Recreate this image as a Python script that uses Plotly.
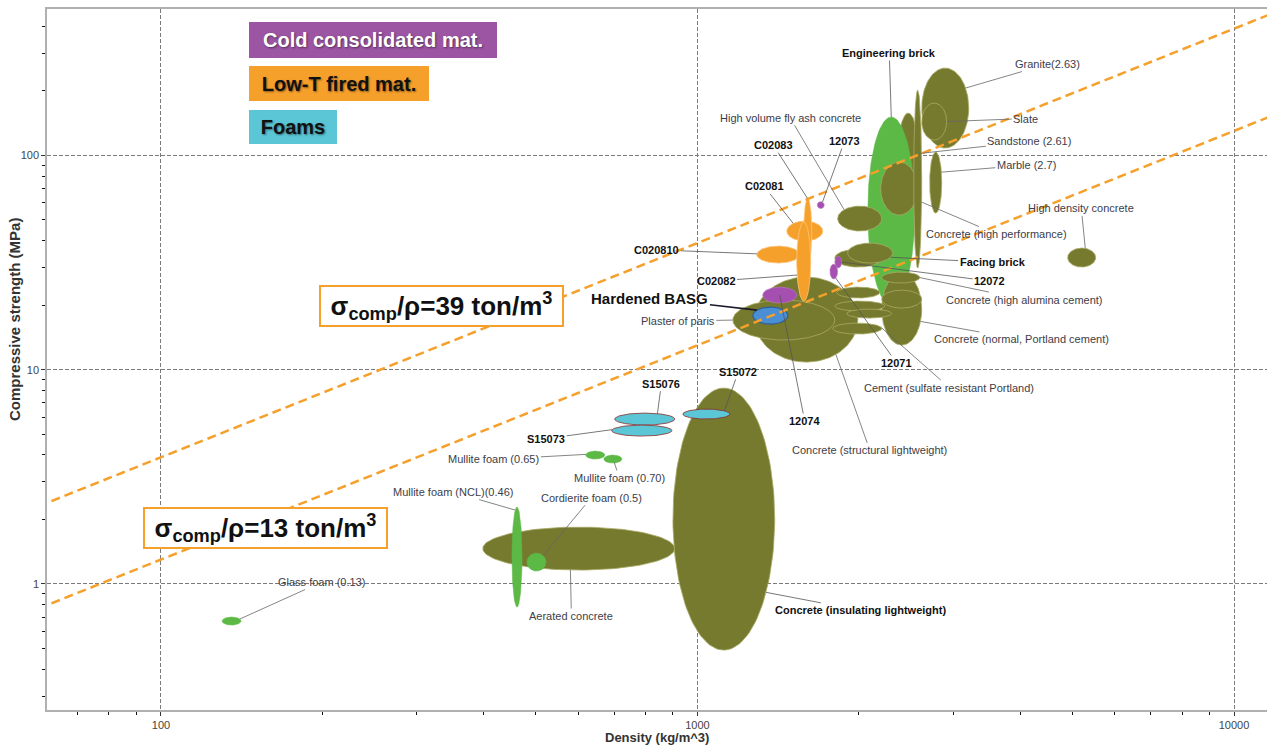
import numpy as np
import plotly.graph_objects as go

# ---------------- DATA ----------------
# material property ranges: density (kg/m^3) and compressive strength (MPa)
materials = [
    "Aerated concrete", "Mullite foam (NCL)(0.46)", "Cordierite foam (0.5)", "Glass foam (0.13)",
    "Mullite foam (0.65)", "Mullite foam (0.70)", "S15076", "S15073",
    "Concrete (insulating lightweight)", "S15072", "Sandstone (2.61)", "Engineering brick",
    "Limestone", "Concrete (high performance)", "Marble (2.7)", "Granite(2.63)", "Slate",
    "High volume fly ash concrete", "Concrete (structural lightweight)", "Plaster of paris",
    "Common brick", "Facing brick", "Concrete (normal, Portland cement)",
    "Concrete (high alumina cement)", "Concrete (normal) B", "Concrete (normal) C",
    "Concrete (normal) D", "Concrete (normal) E", "Cement (sulfate resistant Portland)",
    "Hardened BASG", "12074", "C020810", "C02081", "C02083", "C02082",
    "12073", "12072", "12071", "High density concrete",
]
groups = [
    "olive", "green", "green", "green",
    "green", "green", "cyan", "cyan",
    "olive", "cyan", "olive", "green",
    "olive", "olive", "olive", "olive", "olive",
    "olive", "olive", "olive",
    "olive", "olive", "olive",
    "olive", "olive", "olive",
    "olive", "olive", "olive",
    "blue", "magenta", "orange", "orange", "orange", "orange",
    "magenta", "magenta", "magenta", "olive",
]
rho_lo = [398, 451, 481, 130, 619, 669, 701, 692, 900, 939, 2351, 2077,
          2195, 2529, 2709, 2618, 2618, 1825, 1279, 1164,
          1803, 1905, 2205, 2205, 2205, 1818, 1803, 1897, 1787,
          1268, 1323, 1290, 1467, 1578, 1531, 1672, 1803, 1765, 4898]
rho_hi = [907, 471, 522, 141, 672, 723, 907, 896, 1393, 1149, 2596, 2541,
          2574, 2618, 2853, 3203, 2914, 2205, 1990, 1803,
          2205, 2311, 2618, 2596, 2618, 2186, 2234, 2301, 2205,
          1474, 1531, 1550, 1712, 1633, 1626, 1723, 1857, 1825, 5523]
sig_lo = [1.161, 0.780, 1.149, 0.643, 3.826, 3.666, 5.513, 4.899, 0.4916, 5.883, 48.85, 20.02,
          52.63, 29.80, 53.78, 108.2, 117.9, 44.35, 10.85, 13.75,
          30.12, 31.44, 13.02, 25.36, 19.38, 21.59, 18.77, 17.41, 14.66,
          16.32, 20.46, 31.44, 39.82, 30.77, 20.90, 56.45, 29.80, 26.48, 30.12]
sig_hi = [1.843, 2.285, 1.394, 0.701, 4.171, 3.996, 6.273, 5.513, 8.208, 6.549, 157.5, 150.9,
          93.05, 201.7, 103.6, 255.5, 175.4, 58.00, 27.05, 21.12,
          36.54, 38.97, 28.24, 28.54, 23.51, 24.29, 20.90, 19.18, 16.50,
          19.60, 24.29, 37.74, 49.37, 63.20, 48.85, 60.87, 33.89, 31.11, 36.93]

# labels: text, material it points to, attach angle on the ellipse (deg), style
label_text = [
    "Glass foam (0.13)", "Mullite foam (NCL)(0.46)", "Cordierite foam (0.5)", "Aerated concrete",
    "Mullite foam (0.65)", "Mullite foam (0.70)", "S15076", "S15073", "S15072",
    "Concrete (insulating lightweight)", "Plaster of paris", "Hardened BASG", "12074",
    "C02082", "C020810", "C02081", "C02083", "12073", "High volume fly ash concrete",
    "Engineering brick", "Granite(2.63)", "Slate", "Sandstone (2.61)", "Marble (2.7)",
    "Concrete (high performance)", "High density concrete", "Facing brick", "12072",
    "Concrete (high alumina cement)", "Concrete (normal, Portland cement)", "12071",
    "Cement (sulfate resistant Portland)", "Concrete (structural lightweight)",
]
label_target = [
    "Glass foam (0.13)", "Mullite foam (NCL)(0.46)", "Cordierite foam (0.5)", "Aerated concrete",
    "Mullite foam (0.65)", "Mullite foam (0.70)", "S15076", "S15073", "S15072",
    "Concrete (insulating lightweight)", "Plaster of paris", "Hardened BASG", "12074",
    "C02082", "C020810", "C02081", "C02083", "12073", "High volume fly ash concrete",
    "Engineering brick", "Granite(2.63)", "Slate", "Sandstone (2.61)", "Marble (2.7)",
    "Concrete (high performance)", "High density concrete", "Facing brick", "12072",
    "Concrete (high alumina cement)", "Concrete (normal, Portland cement)", "12071",
    "Cement (sulfate resistant Portland)", "Concrete (structural lightweight)",
]
label_angle = [30, 110, 45, 265, 170, 280, 65, 170, 40, -34, 180, 140, 0,
               200, 175, 130, 95, 60, 135, 90, 30, 0, 15, 20, -15, 75, -25, 0,
               0, -20, -60, 10, -55]
label_frac = [1, 1, 1, 1, 1, 1, 1, 1, 1, 1, 1, 1, 0,
              1, 1, 1, 1, 1, 1, 1, 1, 1, 1, 1, 1, 1, 1, 1,
              1, 1, 1, 1, 1]
label_style = ["n", "n", "n", "n", "n", "n", "b", "b", "b", "b", "n", "big", "b",
               "b", "b", "b", "b", "b", "n", "b", "n", "n", "n", "n", "n", "n", "b", "b",
               "n", "n", "b", "n", "n"]

# specific-strength guide lines (ton/m^3)
ratio_vals = [39, 13]
ratio_box_text = ["σ<sub>comp</sub>/ρ=39 ton/m<sup>3</sup>", "σ<sub>comp</sub>/ρ=13 ton/m<sup>3</sup>"]

legend_text = ["Cold consolidated mat.", "Low-T fired mat.", "Foams"]

x_ticks = [100, 1000, 10000]
y_ticks = [1, 10, 100]

# ---------------- STYLE / LAYOUT ----------------
label_dx = [82, -62, 48, 1, -92, 5, 4, -66, 14, 94, -55, -107, 25,
            -81, -100, -29, -34, 22, -54, -2, 82, 79, 110, 85, 75, -4, 102, 148,
            105, 101, 61, 68, 34]
label_dy = [-37, -18, -58, 46, 5, 15, -30, 9, -39, 18, 1, -12, 126,
            6, -4, -37, -53, -61, -92, -64, -24, -3, -12, -7, 32, -40, 5, 19,
            22, 18, 85, 60, 96]

COL = {
    "olive": ("#767a2e", "#a8aa64", 0.8),
    "green": ("#5cb946", "#5cb946", 0.5),
    "orange": ("#f6a02c", "#fbc57a", 0.8),
    "cyan": ("#5bc6d6", "#8a2c2c", 0.8),
    "magenta": ("#a550b0", "#c07ac8", 0.6),
    "blue": ("#4a8fd4", "#2d5f9a", 1.2),
}
FONT = "Liberation Sans, Arial, sans-serif"
W, H = 1267, 747
ML, MR, MT, MB = 47, 0, 9, 37
PW, PH = W - ML - MR, H - MT - MB
XR = [1.7876, 4.0615]
YR = [-0.588, 2.683]


def px2paper(px, py):
    return (px - ML) / PW, 1 - (py - MT) / PH


fig = go.Figure()
t = np.linspace(0, 2 * np.pi, 140)
geo = {}
for i, name in enumerate(materials):
    lx0, lx1 = np.log10(rho_lo[i]), np.log10(rho_hi[i])
    ly0, ly1 = np.log10(sig_lo[i]), np.log10(sig_hi[i])
    cx, rx, cy, ry = (lx0 + lx1) / 2, (lx1 - lx0) / 2, (ly0 + ly1) / 2, (ly1 - ly0) / 2
    geo[name] = (cx, rx, cy, ry)
    fill, line, lw = COL[groups[i]]
    fig.add_trace(go.Scatter(
        x=10 ** (cx + rx * np.cos(t)), y=10 ** (cy + ry * np.sin(t)),
        mode="lines", fill="toself", fillcolor=fill,
        line=dict(color=line, width=lw), name=name, hoverinfo="name",
        showlegend=False,
    ))

# guide lines sigma = ratio * rho
xl = np.array([40.0, 20000.0])
for r in ratio_vals:
    fig.add_trace(go.Scatter(x=xl, y=r * xl / 1000.0, mode="lines",
                             line=dict(color="#f6a02c", width=2.5, dash="9px,5px"),
                             showlegend=False, hoverinfo="skip"))

annotations = []
for k, txt in enumerate(label_text):
    cx, rx, cy, ry = geo[label_target[k]]
    a = np.radians(label_angle[k])
    f = label_frac[k]
    tx, ty = cx + f * rx * np.cos(a), cy + f * ry * np.sin(a)
    st = label_style[k]
    if st == "big":
        font = dict(family=FONT, size=15, color="#111")
        txt_s = "<b>" + txt + "</b>"
        acol, aw = "#1b1b2a", 1.6
    elif st == "b":
        font = dict(family=FONT, size=11, color="#111")
        txt_s = "<b>" + txt + "</b>"
        acol, aw = "#555", 0.8
    else:
        font = dict(family=FONT, size=11, color="#3d3d48")
        txt_s = txt
        acol, aw = "#666", 0.8
    annotations.append(dict(
        x=tx, y=ty, xref="x", yref="y", ax=label_dx[k], ay=label_dy[k],
        axref="pixel", ayref="pixel", text=txt_s, showarrow=True, arrowhead=0,
        arrowwidth=aw, arrowcolor=acol, standoff=0, startstandoff=0, font=font,
        borderpad=1,
    ))

# ratio boxes
ratio_box_px = [(441.5, 306), (265.5, 528)]
for txt, (px, py) in zip(ratio_box_text, ratio_box_px):
    xp, yp = px2paper(px, py)
    annotations.append(dict(
        x=xp, y=yp, xref="paper", yref="paper", text="<b>" + txt + "</b>",
        showarrow=False, xanchor="center", yanchor="middle",
        font=dict(family=FONT, size=26, color="#111"),
        bgcolor="white", bordercolor="#f6a02c", borderwidth=2, borderpad=2,
        width=237, height=34,
    ))

# legend boxes
legend_bg = ["#9b55a2", "#f6a02c", "#5bc6d6"]
legend_fc = ["white", "#111", "#111"]
legend_box = [(249, 22, 248, 36), (249, 66, 180, 35), (249, 110, 88, 34)]
for txt, bg, fc, (bx, by, bw, bh) in zip(legend_text, legend_bg, legend_fc, legend_box):
    xp, yp = px2paper(bx, by)
    annotations.append(dict(
        x=xp, y=yp, xref="paper", yref="paper", text="<b>" + txt + "</b>",
        showarrow=False, xanchor="left", yanchor="top",
        font=dict(family=FONT, size=20, color=fc, shadow="1px 1px 2px rgba(0,0,0,0.45)"),
        bgcolor=bg, borderpad=0, borderwidth=0, width=bw, height=bh, align="center",
    ))

# axis titles
xp, yp = px2paper(657, 737)
annotations.append(dict(x=xp, y=yp, xref="paper", yref="paper", showarrow=False,
                        text="<b>Density (kg/m^3)</b>", xanchor="center", yanchor="middle",
                        font=dict(family=FONT, size=13, color="#333")))
xp, yp = px2paper(15, 320)
annotations.append(dict(x=xp, y=yp, xref="paper", yref="paper", showarrow=False,
                        text="<b>Compressive strength (MPa)</b>", textangle=-90,
                        xanchor="center", yanchor="middle",
                        font=dict(family=FONT, size=15, color="#333")))

x_minor = [m * 10 ** e for e in range(1, 5) for m in range(2, 10)]
y_minor = [m * 10 ** e for e in range(-1, 3) for m in range(2, 10)]

fig.update_layout(
    width=W, height=H, autosize=False,
    margin=dict(l=ML, r=MR, t=MT, b=MB, pad=0),
    paper_bgcolor="white", plot_bgcolor="white",
    showlegend=False, annotations=annotations,
    font=dict(family=FONT),
    xaxis=dict(type="log", range=XR, tickmode="array", tickvals=x_ticks,
               ticktext=[str(v) for v in x_ticks], showgrid=True, gridcolor="#7a7a7a",
               gridwidth=1, griddash="4px,2px", showline=True, linecolor="#b0b0b0",
               linewidth=1.5, mirror=True, ticks="outside", ticklen=4, tickcolor="#333",
               tickfont=dict(family=FONT, size=11, color="#444"), zeroline=False,
               minor=dict(tickmode="array", tickvals=x_minor, ticks="outside", ticklen=3,
                          tickcolor="#111", showgrid=False)),
    yaxis=dict(type="log", range=YR, tickmode="array", tickvals=y_ticks,
               ticktext=[str(v) for v in y_ticks], showgrid=True, gridcolor="#7a7a7a",
               gridwidth=1, griddash="4px,2px", showline=True, linecolor="#b0b0b0",
               linewidth=1.5, mirror=False, ticks="outside", ticklen=4, tickcolor="#333",
               tickfont=dict(family=FONT, size=11, color="#444"), zeroline=False,
               minor=dict(tickmode="array", tickvals=y_minor, ticks="outside", ticklen=3,
                          tickcolor="#111", showgrid=False)),
)

fig.write_html("out.html", config={"displayModeBar": False},
               post_script="document.body.style.margin='0';")
